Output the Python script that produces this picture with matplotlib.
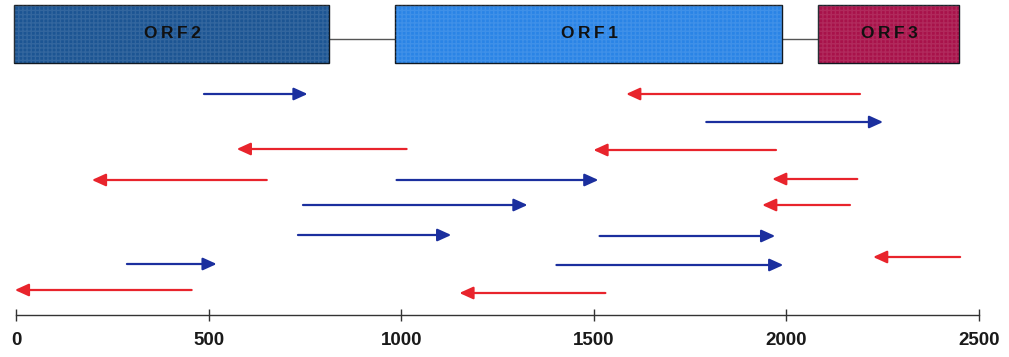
import matplotlib
matplotlib.use("Agg")
import matplotlib.pyplot as plt
from matplotlib.patches import Rectangle

# ---- data ----
orf_names = ["ORF2", "ORF1", "ORF3"]
orf_starts = [0, 988, 2088]
orf_ends = [812, 1988, 2448]

# arrows: start (tail) -> end (head); forward = blue, reverse = red
arrow_starts = [488, 2191, 1792, 1014, 1973, 651, 988, 2184, 745, 2165,
                732, 1515, 2451, 288, 1403, 456, 1530]
arrow_ends = [757, 1584, 2251, 573, 1499, 197, 1512, 1963, 1328, 1937,
              1130, 1971, 2225, 521, 1992, -3, 1151]
arrow_rows = [94, 94, 122, 149, 150, 180, 180, 179, 205, 205,
              235, 236, 257, 264, 265, 290, 293]

xticks = [0, 500, 1000, 1500, 2000, 2500]

# ---- style ----
orf_colors = ["#1c5593", "#2a84e6", "#a8124a"]
fwd_color = "#1b2f9e"
rev_color = "#e8242c"

W, H = 1009, 357
fig = plt.figure(figsize=(W / 100, H / 100), dpi=100)
fig.patch.set_facecolor("white")
ax = fig.add_axes([16 / W, 42 / H, (979 - 16) / W, (H - 42) / H])
ax.set_xlim(0, 2500)
ax.set_ylim(315, 0)

box_top, box_bot = 5, 63
for name, s, e, c in zip(orf_names, orf_starts, orf_ends, orf_colors):
    ax.add_patch(Rectangle((s - 5, box_top), e - s + 5, box_bot - box_top,
                           facecolor=c, edgecolor="#101820", lw=1.0,
                           clip_on=False, zorder=3))
    ax.add_patch(Rectangle((s - 5, box_top), e - s + 5, box_bot - box_top,
                           facecolor="none", edgecolor=(1, 1, 1, 0.10),
                           hatch="++++", lw=0, clip_on=False, zorder=3.5))
    ax.text((s + e) / 2, 33, "\u2009".join(name), ha="center",
            va="center", fontsize=12.5, color="#111111",
            family=["Liberation Sans", "DejaVu Sans"], weight="bold",
            zorder=4)

# connector lines between ORF boxes
for i in range(len(orf_names) - 1):
    ax.plot([orf_ends[i], orf_starts[i + 1]], [39, 39], color="#555555",
            lw=1.0, zorder=2, clip_on=False)

for s, e, r in zip(arrow_starts, arrow_ends, arrow_rows):
    col = fwd_color if e > s else rev_color
    ax.annotate("", xy=(e, r), xytext=(s, r),
                arrowprops=dict(arrowstyle="-|>,head_length=0.55,head_width=0.25",
                                mutation_scale=15, color=col, lw=1.6,
                                shrinkA=0, shrinkB=0),
                annotation_clip=False)

for sp in ["left", "right", "top"]:
    ax.spines[sp].set_visible(False)
ax.spines["bottom"].set_color("#333333")
ax.spines["bottom"].set_linewidth(1.0)
ax.set_yticks([])
ax.set_xticks(xticks)
ax.set_xticklabels([str(t) for t in xticks], family="Liberation Sans",
                   weight="bold", fontsize=13.5, color="#1a1a1a")
ax.tick_params(axis="x", direction="inout", length=9, width=1.0,
               color="#333333", pad=8)

fig.savefig("out.png", dpi=100, facecolor="white")
